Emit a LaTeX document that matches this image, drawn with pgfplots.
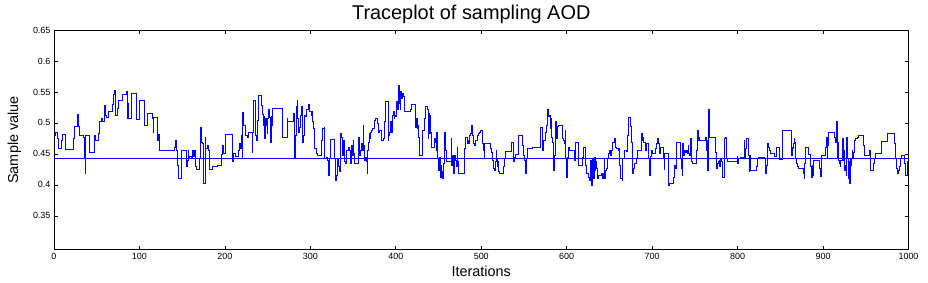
\documentclass[border=0pt]{standalone}
\usepackage{fontspec}
\setmainfont{Liberation Sans}
\usepackage{pgfplots}
\pgfplotsset{compat=1.18}
\usepackage{pgfplotstable}
\pgfplotstableread{
it v
0 0.480
2.3 0.485
3.9 0.475
5.1 0.459
8.2 0.472
9.7 0.482
13.3 0.469
14.0 0.457
22.6 0.475
23.8 0.494
27.3 0.514
28.5 0.494
29.6 0.480
34.3 0.477
35.5 0.445
36.7 0.419
37.4 0.480
42.1 0.452
47.2 0.480
48.0 0.472
51.9 0.483
53.8 0.502
55.8 0.507
56.6 0.503
58.9 0.528
59.7 0.512
61.6 0.508
63.6 0.518
68.3 0.529
69.4 0.546
70.6 0.552
72.2 0.524
72.5 0.512
74.5 0.523
75.7 0.537
80.3 0.546
84.3 0.550
85.5 0.507
86.6 0.531
87.4 0.507
90.5 0.548
96.0 0.506
100.3 0.537
105.7 0.496
109.6 0.516
114.7 0.507
115.9 0.485
116.7 0.508
121.3 0.472
122.5 0.481
123.3 0.456
141.2 0.461
142.0 0.472
142.8 0.456
144.3 0.431
145.9 0.410
149.0 0.456
154.5 0.430
155.7 0.439
156.8 0.456
157.6 0.442
158.8 0.446
160.3 0.442
161.5 0.456
162.7 0.446
164.0 0.456
165.0 0.429
166.9 0.425
170.4 0.442
171.6 0.492
172.4 0.469
173.6 0.467
174.7 0.442
175.5 0.403
176.7 0.477
177.8 0.458
179.4 0.464
180.6 0.456
181.4 0.425
186.0 0.429
191.1 0.432
195.8 0.449
197.7 0.464
198.9 0.450
200.1 0.456
201.2 0.481
208.7 0.456
209.4 0.437
210.2 0.450
211.8 0.446
215.7 0.456
217.2 0.467
218.4 0.458
219.2 0.479
220.4 0.442
221.1 0.517
222.3 0.496
223.5 0.479
226.2 0.476
227.4 0.485
232.1 0.453
232.8 0.485
234.0 0.537
235.2 0.513
236.0 0.480
236.7 0.472
237.9 0.504
239.1 0.545
242.6 0.528
243.8 0.513
244.9 0.496
245.7 0.510
246.5 0.475
247.7 0.507
248.8 0.496
249.3 0.483
250.1 0.507
251.2 0.521
252.0 0.508
252.8 0.469
254.0 0.510
254.7 0.496
255.9 0.524
267.6 0.477
273.1 0.507
273.5 0.503
280.1 0.515
280.9 0.502
281.6 0.442
282.4 0.480
283.2 0.526
284.4 0.537
285.2 0.507
286.3 0.484
287.1 0.492
288.3 0.512
289.1 0.526
290.2 0.502
291.0 0.469
292.2 0.480
293.0 0.512
294.1 0.510
295.7 0.521
298.0 0.530
298.8 0.518
300.8 0.512
301.9 0.518
302.7 0.502
303.5 0.491
304.3 0.467
305.4 0.458
306.6 0.450
307.8 0.448
312.5 0.472
313.6 0.483
314.4 0.491
316.4 0.492
317.1 0.442
318.3 0.444
320.3 0.439
321.0 0.415
322.2 0.442
323.4 0.474
328.1 0.442
329.2 0.407
330.0 0.415
331.2 0.434
332.0 0.442
333.1 0.429
334.0 0.421
334.8 0.483
336.0 0.477
337.1 0.456
337.9 0.448
338.6 0.472
339.4 0.456
340.2 0.437
341.0 0.434
341.8 0.456
344.9 0.461
346.1 0.456
346.8 0.434
347.6 0.458
348.4 0.464
349.2 0.448
350.0 0.472
350.7 0.450
351.9 0.434
356.6 0.477
357.8 0.448
358.9 0.456
359.7 0.467
360.5 0.456
361.7 0.496
362.4 0.464
363.6 0.439
364.4 0.445
365.6 0.437
366.3 0.418
367.1 0.456
367.9 0.469
368.7 0.483
369.5 0.475
370.2 0.485
371.4 0.488
372.6 0.491
374.5 0.504
376.1 0.507
378.0 0.499
379.2 0.485
381.2 0.488
383.1 0.472
385.1 0.475
387.0 0.502
388.2 0.534
390.9 0.472
391.7 0.480
392.9 0.485
394.0 0.502
394.8 0.485
395.6 0.512
396.8 0.518
397.9 0.507
398.7 0.512
399.9 0.510
401.1 0.534
402.2 0.521
403.0 0.561
404.2 0.531
405.0 0.521
405.7 0.550
406.5 0.540
407.3 0.548
408.5 0.542
409.6 0.518
416.6 0.521
418.6 0.530
422.5 0.510
423.2 0.492
424.0 0.507
424.8 0.491
425.6 0.496
426.7 0.477
427.5 0.448
431.4 0.488
433.8 0.507
434.5 0.526
436.9 0.521
437.7 0.475
438.4 0.515
439.2 0.483
440.0 0.512
440.8 0.485
441.6 0.460
445.5 0.475
446.2 0.469
447.0 0.456
447.8 0.485
448.6 0.442
449.8 0.434
450.5 0.423
451.3 0.445
452.1 0.412
452.9 0.431
453.7 0.421
454.4 0.410
455.2 0.426
456.0 0.434
456.8 0.485
458.0 0.456
458.7 0.437
465.0 0.475
465.7 0.431
466.5 0.448
467.3 0.418
468.1 0.448
469.3 0.439
470.4 0.429
471.6 0.461
472.4 0.437
473.2 0.418
480.2 0.458
481.4 0.475
482.1 0.477
483.3 0.467
484.5 0.472
485.3 0.467
486.0 0.480
487.2 0.483
488.0 0.485
488.8 0.496
489.9 0.480
491.1 0.467
492.3 0.464
493.8 0.472
495.0 0.480
496.6 0.483
497.7 0.485
498.9 0.488
501.3 0.467
502.4 0.456
503.2 0.445
504.0 0.467
510.3 0.458
511.4 0.453
513.4 0.439
514.2 0.426
515.3 0.423
516.5 0.437
517.3 0.456
518.1 0.442
518.8 0.429
519.6 0.437
520.4 0.421
521.6 0.418
525.9 0.429
526.6 0.442
527.8 0.454
534.8 0.469
538.0 0.437
538.7 0.445
539.9 0.449
543.0 0.464
543.8 0.479
548.5 0.464
549.7 0.448
550.4 0.439
551.6 0.418
552.4 0.442
553.6 0.458
559.4 0.460
569.6 0.492
571.1 0.485
571.9 0.456
572.7 0.472
575.4 0.485
576.2 0.496
577.4 0.521
578.5 0.510
579.3 0.512
580.5 0.491
581.3 0.507
582.0 0.477
583.2 0.469
584.0 0.442
584.8 0.423
585.9 0.448
586.7 0.469
587.4 0.502
588.2 0.475
589.0 0.494
590.2 0.496
595.6 0.475
596.4 0.472
597.2 0.467
598.0 0.488
598.8 0.442
599.5 0.412
600.3 0.429
601.1 0.445
601.9 0.461
603.8 0.456
609.3 0.439
610.1 0.453
610.8 0.469
613.2 0.439
614.0 0.432
619.0 0.445
619.8 0.461
621.8 0.445
622.5 0.431
623.3 0.418
624.9 0.412
626.1 0.410
626.8 0.407
627.6 0.439
628.4 0.426
629.2 0.399
630.0 0.421
630.7 0.442
631.5 0.410
632.3 0.445
633.1 0.423
633.9 0.437
635.0 0.426
635.8 0.410
636.6 0.415
640.5 0.418
641.3 0.412
642.1 0.410
642.8 0.418
643.6 0.442
644.4 0.410
645.2 0.423
646.7 0.426
647.5 0.442
649.1 0.450
650.2 0.456
651.4 0.448
652.2 0.456
653.4 0.469
656.1 0.475
657.3 0.461
658.4 0.458
660.0 0.456
661.5 0.458
662.3 0.431
663.1 0.410
664.7 0.407
665.8 0.442
667.0 0.456
669.4 0.454
670.6 0.480
671.7 0.508
674.1 0.504
674.9 0.494
675.6 0.469
676.4 0.445
677.2 0.418
678.0 0.426
678.8 0.434
681.9 0.442
683.1 0.456
687.7 0.483
688.5 0.472
689.3 0.477
690.1 0.469
692.4 0.456
693.6 0.467
695.9 0.442
696.7 0.415
697.5 0.442
698.3 0.446
699.0 0.456
699.8 0.450
703.7 0.458
704.9 0.467
706.1 0.475
707.2 0.467
708.4 0.450
709.2 0.461
713.1 0.442
713.9 0.425
714.7 0.450
719.3 0.399
720.5 0.402
724.8 0.412
725.6 0.426
726.4 0.431
727.1 0.426
727.9 0.445
728.7 0.469
732.6 0.458
733.4 0.442
734.2 0.426
734.9 0.415
735.7 0.467
736.5 0.448
737.3 0.456
738.4 0.453
739.6 0.456
740.8 0.450
742.0 0.464
742.7 0.450
743.5 0.448
744.7 0.475
745.5 0.439
746.2 0.437
747.4 0.434
751.3 0.442
752.1 0.456
752.9 0.488
753.7 0.472
754.4 0.477
755.2 0.472
762.7 0.477
763.5 0.456
764.2 0.472
765.0 0.423
765.8 0.521
766.6 0.522
767.4 0.477
774.4 0.453
775.2 0.426
775.9 0.429
776.7 0.434
777.5 0.437
778.3 0.439
779.1 0.429
779.8 0.442
781.0 0.437
781.8 0.412
784.1 0.442
784.9 0.475
785.7 0.477
786.5 0.458
786.9 0.442
787.6 0.437
799.3 0.446
800.1 0.434
800.9 0.442
802.9 0.445
807.5 0.472
808.3 0.442
809.1 0.458
809.9 0.475
812.6 0.448
813.4 0.421
814.2 0.442
815.0 0.448
815.6 0.423
821.6 0.429
822.7 0.442
823.9 0.445
831.3 0.442
832.1 0.431
832.9 0.418
833.7 0.431
834.4 0.467
835.6 0.461
836.8 0.456
838.0 0.450
842.6 0.446
845.3 0.460
849.2 0.441
851.9 0.464
852.7 0.487
862.9 0.448
863.6 0.461
864.4 0.458
865.2 0.467
866.0 0.475
866.8 0.469
867.5 0.442
868.7 0.434
869.5 0.430
870.7 0.427
871.8 0.426
876.9 0.418
877.7 0.410
878.5 0.434
879.2 0.460
883.1 0.449
885.5 0.429
886.3 0.412
887.1 0.431
887.8 0.415
888.6 0.440
895.2 0.437
896.0 0.426
896.8 0.414
897.6 0.447
903.0 0.461
903.8 0.476
904.6 0.442
905.4 0.464
906.2 0.485
913.6 0.477
914.4 0.469
915.1 0.480
915.9 0.502
916.7 0.442
917.5 0.469
918.3 0.439
919.0 0.434
919.8 0.430
920.6 0.439
922.2 0.442
923.0 0.475
923.8 0.439
924.5 0.456
925.3 0.423
926.1 0.431
926.9 0.415
927.7 0.477
928.4 0.442
929.2 0.410
930.0 0.437
930.8 0.402
931.6 0.442
932.3 0.431
933.1 0.442
933.9 0.456
934.7 0.442
935.5 0.453
936.2 0.467
937.0 0.472
937.8 0.475
940.1 0.477
940.9 0.479
947.2 0.464
947.9 0.448
954.2 0.456
955.0 0.439
955.7 0.423
958.9 0.434
959.6 0.437
960.4 0.442
961.2 0.450
967.8 0.461
968.6 0.470
975.6 0.483
983.8 0.467
984.6 0.442
985.4 0.426
986.6 0.418
987.7 0.421
988.5 0.423
989.3 0.429
990.1 0.439
990.8 0.442
991.6 0.448
995.1 0.434
995.9 0.429
996.7 0.415
999.0 0.437
1000 0.437
}\trace
\pgfplotstableread{
it v
0 0.4425
1000 0.4425
}\meanline
\definecolor{mblue}{RGB}{0,0,255}
\begin{document}
\begin{tikzpicture}
\begin{axis}[
  name=ax,
  scale only axis,
  width=855bp, height=220bp,
  xmin=0, xmax=1000, ymin=0.295, ymax=0.65,
  xtick={0,100,200,300,400,500,600,700,800,900,1000},
  ytick={0.35,0.4,0.45,0.5,0.55,0.6,0.65},
  scaled ticks=false,
  tick align=inside,
  major tick length=4bp,
  tick style={black, line width=0.6bp},
  axis line style={black, line width=0.8bp},
  /pgf/number format/assume math mode=true,
  ticklabel style={font=\fontsize{9}{10}\selectfont},
  yticklabel style={/pgf/number format/.cd, fixed, precision=2},
  xticklabel style={/pgf/number format/.cd, fixed, 1000 sep={}},
  title={Traceplot of sampling AOD},
  title style={font=\fontsize{20}{22}\selectfont, yshift=-3bp, xshift=-10bp},
  xlabel={Iterations},
  ylabel={Sample value},
  label style={font=\fontsize{14.5}{16}\selectfont},
  xlabel style={yshift=1bp},
  ylabel style={yshift=5bp},
  clip=true,
]
\addplot[mblue, line width=0.9bp, const plot] table[x=it, y=v] {\trace};
\addplot[mblue, line width=0.9bp] table[x=it, y=v] {\meanline};
\end{axis}
\pgfresetboundingbox
\path ([shift={(-54bp,-33bp)}]ax.south west) rectangle ([shift={(19.5bp,30bp)}]ax.north east);
\end{tikzpicture}
\end{document}
